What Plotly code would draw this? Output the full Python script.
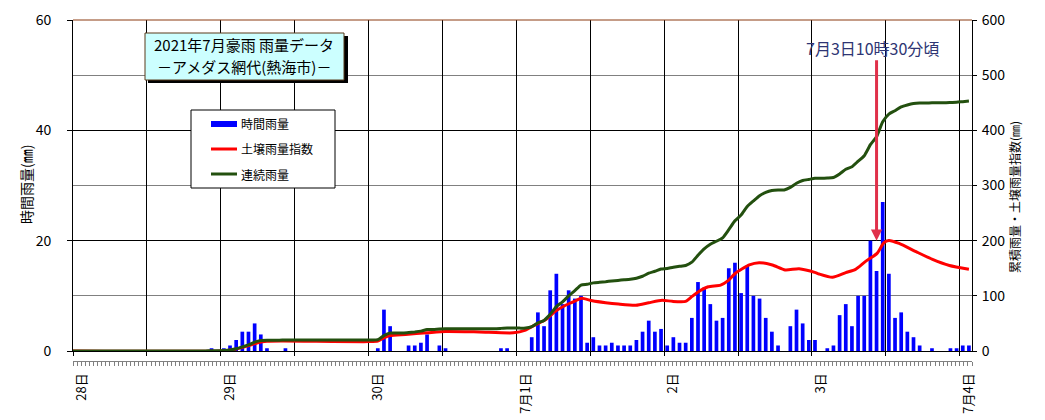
import plotly.graph_objects as go
import pandas as pd

# ---------------- data ----------------
start = pd.Timestamp("2021-06-28 00:00")
end = pd.Timestamp("2021-07-04 02:00")

# hourly rainfall (mm), one value per hour starting 6/28 00:00
rain_0628 = [0, 0, 0, 0, 0, 0, 0, 0, 0, 0, 0, 0, 0, 0, 0, 0, 0, 0, 0, 0, 0, 0, 0.5, 0]
rain_0629 = [0.5, 1, 2, 3.5, 3.5, 5, 3, 0.5, 0, 0, 0.5, 0, 0, 0, 0, 0, 0, 0, 0, 0, 0, 0, 0, 0]
rain_0630 = [0, 0.5, 7.5, 4.5, 0, 0, 1, 1, 1.5, 3, 0, 1, 0.5, 0, 0, 0, 0, 0, 0, 0, 0, 0.5, 0.5, 0]
rain_0701 = [0, 0, 2.5, 7, 4.5, 11, 14, 8.5, 11, 9.5, 10, 1.5, 2.5, 1, 1, 1.5, 1, 1, 1, 2, 3.5, 5.5, 3.5, 4]
rain_0702 = [1, 2.5, 1.5, 1.5, 6, 12.5, 11.5, 8.5, 5.5, 6, 15, 16, 10.5, 15.5, 10, 9.5, 6, 3.5, 1, 0, 4.5, 7.5, 5, 2]
rain_0703 = [2, 0, 0.5, 1, 6.5, 8.5, 4.5, 10, 10, 20, 14.5, 27, 14, 6, 7, 3.5, 2.5, 1, 0, 0.5, 0, 0, 0.5, 0.5]
rain_0704 = [1, 1]

# continuous rainfall (mm), read at the same hourly points
cont_0628 = [0, 0, 0, 0, 0, 0, 0, 0, 0, 0, 0, 0, 0, 0, 0, 0, 0, 0, 0, 0, 0, 0, 0.5, 0.5]
cont_0629 = [1, 2, 4, 7.5, 11, 16, 19, 19.5, 19.5, 19.5, 20, 20, 20, 20, 20, 20, 20, 20, 20, 20, 20, 20, 20, 20]
cont_0630 = [20, 20.5, 28, 32.5, 32.5, 32.5, 33.5, 34.5, 36, 39, 39, 40, 40.5, 40.5, 40.5, 40.5, 40.5, 40.5, 40.5, 40.5, 40.5, 41, 41.5, 41.5]
cont_0701 = [41.5, 41.5, 44, 51, 55.5, 66.5, 80.5, 89, 100, 109.5, 119.5, 121, 123.5, 124.5, 125.5, 127, 128, 129, 130, 132, 135.5, 141, 144.5, 148.5]
cont_0702 = [149.5, 152, 153.5, 155, 161, 173.5, 185, 193.5, 199, 205, 220, 236, 246.5, 262, 272, 281.5, 287.5, 291, 292, 292, 296.5, 304, 309, 311]
cont_0703 = [313, 313, 313.5, 314.5, 321, 329.5, 334, 344, 354, 374, 388.5, 415.5, 429.5, 435.5, 442.5, 446, 448.5, 449.5, 449.5, 450, 450, 450, 450.5, 451]
cont_0704 = [452, 453]

# soil water index (mm), read at these times
swi_time = ["2021-06-28 00:00", "2021-06-29 00:00", "2021-06-29 02:00", "2021-06-29 04:00",
            "2021-06-29 06:00", "2021-06-29 07:30", "2021-06-29 10:00", "2021-06-30 00:00",
            "2021-06-30 01:30", "2021-06-30 02:30", "2021-06-30 03:30", "2021-06-30 06:00",
            "2021-06-30 09:30", "2021-06-30 12:30", "2021-06-30 18:00", "2021-06-30 23:30",
            "2021-07-01 01:30", "2021-07-01 03:00", "2021-07-01 04:40", "2021-07-01 06:20",
            "2021-07-01 08:00", "2021-07-01 09:35", "2021-07-01 10:35", "2021-07-01 12:20",
            "2021-07-01 14:30", "2021-07-01 16:35", "2021-07-01 19:25", "2021-07-01 21:30",
            "2021-07-01 23:40", "2021-07-02 01:20", "2021-07-02 03:30", "2021-07-02 04:20",
            "2021-07-02 05:35", "2021-07-02 07:10", "2021-07-02 09:10", "2021-07-02 10:30",
            "2021-07-02 11:35", "2021-07-02 13:50", "2021-07-02 15:25", "2021-07-02 17:35",
            "2021-07-02 19:40", "2021-07-02 21:55", "2021-07-03 00:35", "2021-07-03 01:10",
            "2021-07-03 03:20", "2021-07-03 05:30", "2021-07-03 07:05", "2021-07-03 08:40",
            "2021-07-03 10:35", "2021-07-03 11:40", "2021-07-03 12:30", "2021-07-03 14:10",
            "2021-07-03 16:55", "2021-07-03 19:35", "2021-07-03 22:20", "2021-07-04 01:30"]
swi_value = [0, 0, 2.5, 8, 15, 17.5, 18, 17, 18, 24, 28, 30, 33, 35.5, 34.5, 33,
             38, 47, 56, 72, 83, 91, 95.5, 91, 87.5, 85, 83, 87.5, 92, 90, 90, 97,
             107.5, 116.5, 119.5, 128.5, 141, 156, 160, 156, 147, 149, 142, 139.5,
             133.5, 142, 148, 162, 177, 196, 200.5, 195, 180, 166, 155, 148]

day_ticks = ["2021-06-28", "2021-06-29", "2021-06-30", "2021-07-01", "2021-07-02", "2021-07-03", "2021-07-04"]
day_labels = ["28日", "29日", "30日", "7月1日", "2日", "3日", "7月4日"]

arrow_time = "2021-07-03 10:30"
arrow_text = "7月3日10時30分頃"

rain = rain_0628 + rain_0629 + rain_0630 + rain_0701 + rain_0702 + rain_0703 + rain_0704
cont = cont_0628 + cont_0629 + cont_0630 + cont_0701 + cont_0702 + cont_0703 + cont_0704
hour_mid = [start + pd.Timedelta(minutes=30 + 60 * i) for i in range(len(rain))]

# ---------------- figure ----------------
W, H = 1045, 420
ML, MR, MT, MB = 73, 73, 20, 55
PW = W - ML - MR
PH = H - MT - MB
PLOT_BOTTOM = 351


def px(X):
    return (X - ML) / PW


def py(Y):
    return (H - MB - Y) / PH


TICKFONT = dict(family="Liberation Sans Narrow, Noto Sans CJK JP, sans-serif", size=14, color="black")
JP = "Noto Sans CJK JP, sans-serif"

fig = go.Figure()
fig.add_trace(go.Bar(x=hour_mid, y=rain, marker=dict(color="#0000FF", line=dict(width=0)),
                     width=0.6 * 3600000, name="時間雨量", yaxis="y", xaxis="x"))
fig.add_trace(go.Scatter(x=swi_time, y=swi_value, mode="lines", name="土壌雨量指数",
                         line=dict(color="#FF0000", width=3, shape="spline", smoothing=0.6),
                         yaxis="y2", xaxis="x"))
fig.add_trace(go.Scatter(x=[start] + hour_mid, y=[0] + cont, mode="lines", name="連続雨量",
                         line=dict(color="#23500F", width=3, shape="spline", smoothing=0.5),
                         yaxis="y2", xaxis="x"))
# carrier trace for the lower date axis
fig.add_trace(go.Scatter(x=[start, end], y=[0, 0], mode="lines", line=dict(width=0),
                         hoverinfo="skip", showlegend=False, xaxis="x2", yaxis="y"))

d0 = py(PLOT_BOTTOM)
fig.update_layout(
    width=W, height=H,
    margin=dict(l=ML, r=MR, t=MT, b=MB, autoexpand=False),
    paper_bgcolor="white", plot_bgcolor="white",
    showlegend=False,
    xaxis=dict(type="date", range=[start, end], showgrid=True, gridcolor="black", gridwidth=1,
               tick0=start, dtick=12 * 3600000, ticks="outside", ticklen=4, tickcolor="black",
               showticklabels=False, showline=True, linecolor="black", linewidth=1, zeroline=False,
               automargin=False),
    xaxis2=dict(type="date", overlaying="x", anchor="free", position=py(361), range=[start, end],
                showgrid=False, tickmode="array", tickvals=day_ticks, ticktext=day_labels,
                ticks="outside", ticklen=4, tickcolor="#808080", showline=True, linecolor="#808080",
                tickangle=-90, tickfont=dict(family="Liberation Sans Narrow, Noto Sans CJK JP, sans-serif", size=13, color="black"),
                minor=dict(tickmode="linear", tick0=start, dtick=40 * 60000, ticks="outside",
                           ticklen=4, tickcolor="#808080"),
                ticklabelshift=9, ticklabelstandoff=2, zeroline=False, automargin=False),
    yaxis=dict(domain=[d0, 1], range=[0, 60], tick0=0, dtick=20, showgrid=True, gridcolor="black",
               minor=dict(dtick=10, showgrid=True, gridcolor="#808080", ticks=""),
               ticks="outside", ticklen=5, tickcolor="black", showline=True, linecolor="black",
               zeroline=False, tickfont=TICKFONT, ticklabelstandoff=13, automargin=False),
    yaxis2=dict(overlaying="y", side="right", range=[0, 600], tick0=0, dtick=100, showgrid=False,
                ticks="outside", ticklen=4, tickcolor="black", showline=True, linecolor="black",
                zeroline=False, tickfont=TICKFONT, ticklabelstandoff=2, automargin=False),
)

shapes = []
# top border
shapes.append(dict(type="line", xref="paper", yref="paper", x0=0, x1=1, y0=1, y1=1,
                   line=dict(color="#8B3A10", width=1)))
# title box with shadow
shapes.append(dict(type="rect", xref="paper", yref="paper", x0=px(148), x1=px(348), y0=py(83), y1=py(36),
                   fillcolor="black", line=dict(width=0)))
shapes.append(dict(type="rect", xref="paper", yref="paper", x0=px(145), x1=px(344), y0=py(80), y1=py(33),
                   fillcolor="#CCFFFF", line=dict(color="#5A3A1A", width=1)))
# legend box
shapes.append(dict(type="rect", xref="paper", yref="paper", x0=px(191), x1=px(335), y0=py(188), y1=py(110),
                   fillcolor="white", line=dict(color="black", width=1)))
shapes.append(dict(type="rect", xref="paper", yref="paper", x0=px(211), x1=px(237), y0=py(127), y1=py(121),
                   fillcolor="#0000FF", line=dict(width=0)))
shapes.append(dict(type="line", xref="paper", yref="paper", x0=px(211), x1=px(237), y0=py(149), y1=py(149),
                   line=dict(color="#FF0000", width=3)))
shapes.append(dict(type="line", xref="paper", yref="paper", x0=px(211), x1=px(237), y0=py(174), y1=py(174),
                   line=dict(color="#23500F", width=3)))
fig.update_layout(shapes=shapes)

ann = []
ann.append(dict(xref="paper", yref="paper", x=px(244), y=py(44.5), text="2021年7月豪雨 雨量データ",
                showarrow=False, font=dict(family=JP, size=15, color="black"), xanchor="center", yanchor="middle"))
ann.append(dict(xref="paper", yref="paper", x=px(244), y=py(66.5), text="－アメダス網代(熱海市)－",
                showarrow=False, font=dict(family=JP, size=15, color="black"), xanchor="center", yanchor="middle"))
for label, yy in (("時間雨量", 124), ("土壌雨量指数", 149), ("連続雨量", 174)):
    ann.append(dict(xref="paper", yref="paper", x=px(239), y=py(yy), text=label, showarrow=False,
                    font=dict(family=JP, size=12, color="black"), xanchor="left", yanchor="middle"))
ann.append(dict(xref="paper", yref="paper", x=px(26), y=py(185), text="時間雨量(㎜)", textangle=-90,
                showarrow=False, font=dict(family=JP, size=14, color="black"), xanchor="center", yanchor="middle"))
ann.append(dict(xref="paper", yref="paper", x=px(1015), y=py(197), text="累積雨量・土壌雨量指数(㎜)", textangle=-90,
                showarrow=False, font=dict(family=JP, size=12, color="black"), xanchor="center", yanchor="middle"))
ann.append(dict(xref="paper", yref="paper", x=px(872), y=py(48.5), text=arrow_text, showarrow=False,
                font=dict(family=JP, size=16, color="#2E3573"), xanchor="center", yanchor="middle"))
ann.append(dict(xref="x", yref="y", x=arrow_time, y=20, text="", showarrow=True, ax=0, ay=-182,
                arrowcolor="#E0304A", arrowwidth=3, arrowhead=2, arrowsize=0.75))
fig.update_layout(annotations=ann)

fig.write_html("out.html", config={"displayModeBar": False},
               post_script="document.body.style.margin='0px';document.body.style.overflow='hidden';")
